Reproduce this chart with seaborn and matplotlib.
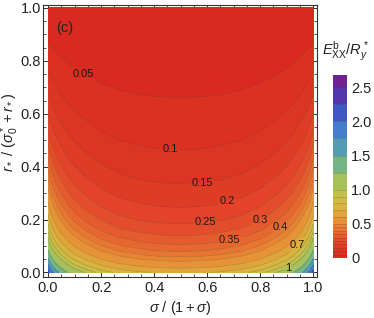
import matplotlib
matplotlib.use("Agg")
import matplotlib.pyplot as plt
import numpy as np
import seaborn as sns
from matplotlib.colors import LinearSegmentedColormap
from matplotlib.ticker import MultipleLocator

# E_xx^b / R_y^* read along the middle column sigma/(1+sigma) = 0.5
center_v = [0, 0.01, 0.02, 0.03, 0.045, 0.065, 0.085, 0.11, 0.14, 0.17, 0.21,
            0.25, 0.3, 0.36, 0.44, 0.52, 0.6, 0.68, 0.76, 0.84, 0.92, 1.0]
center_E = [0.680, 0.628, 0.583, 0.543, 0.491, 0.434, 0.388, 0.342, 0.298, 0.263, 0.226,
            0.197, 0.167, 0.138, 0.107, 0.083, 0.063, 0.046, 0.032, 0.020, 0.0092, 0.0]

# growth of the field towards the left / right edge (same on both sides)
edge_u = [0, 0.005, 0.01, 0.02, 0.035, 0.05, 0.075, 0.1, 0.14, 0.2, 0.27, 0.35, 0.42, 0.5]
edge_factor = [3.20, 2.98, 2.80, 2.55, 2.28, 2.08, 1.83, 1.65, 1.46, 1.26, 1.13, 1.05, 1.014, 1.0]

fill_levels = [0, 0.05, 0.1, 0.15, 0.2, 0.25, 0.3, 0.35, 0.4, 0.45, 0.5,
               0.6, 0.7, 0.8, 0.9, 1.0, 1.25, 1.5, 1.75, 2.0, 2.25, 2.5, 2.68]
label_levels = [0.05, 0.1, 0.15, 0.2, 0.25, 0.3, 0.35, 0.4, 0.7, 1.0]
other_levels = [0.45, 0.5, 0.6, 0.8, 0.9, 1.25, 1.5, 1.75, 2.0, 2.25, 2.5]
label_spots = [(0.136, 0.759), (0.46, 0.45), (0.585, 0.318), (0.681, 0.249), (0.597, 0.173),
               (0.804, 0.188), (0.688, 0.110), (0.885, 0.161), (0.949, 0.095), (0.904, 0.020)]

cbar_ticks = [0, 0.5, 1.0, 1.5, 2.0, 2.5]
cbar_labels = ["0", "0.5", "1.0", "1.5", "2.0", "2.5"]

# reversed "rainbow" (red at 0, purple at the top)
rainbow_pos = [0, 0.25, 0.5, 0.75, 1.0, 1.25, 1.5, 1.75, 2.0, 2.25, 2.5, 2.68]
rainbow_col = ["#d8261f", "#e3472a", "#ea8a35", "#dbb53f", "#bcc24e", "#8dbf6a",
               "#5daa9c", "#4b8fc8", "#3f6cd0", "#3f43b8", "#66259c", "#7a1c8a"]

sns.set_theme(style="ticks")
plt.rcParams["font.family"] = ["Liberation Sans", "DejaVu Sans"]
plt.rcParams["mathtext.fontset"] = "custom"
plt.rcParams["mathtext.rm"] = "Liberation Sans"
plt.rcParams["mathtext.it"] = "Liberation Sans:italic"
plt.rcParams["mathtext.bf"] = "Liberation Sans:bold"

cmap = LinearSegmentedColormap.from_list(
    "rainbow_r", [(p / rainbow_pos[-1], c) for p, c in zip(rainbow_pos, rainbow_col)])
norm = plt.Normalize(0, rainbow_pos[-1])

u = np.linspace(0, 1, 401)
v = np.linspace(0, 1, 401)
fac = np.interp(np.minimum(u, 1 - u), edge_u, edge_factor)
prof = np.interp(v, center_v, center_E)
Z = prof[:, None] * fac[None, :]

fig = plt.figure(figsize=(3.74, 3.18), dpi=100)
ax = fig.add_axes([0.115, 0.129, 0.733, 0.855])

line_kw = dict(colors="#333333", linewidths=0.4, alpha=0.32)
cf = ax.contourf(u, v, Z, levels=fill_levels, cmap=cmap, norm=norm)
cs_other = ax.contour(u, v, Z, levels=other_levels, **line_kw)
cs_lab = ax.contour(u, v, Z, levels=label_levels, **line_kw)
labels = ax.clabel(cs_lab, fmt=lambda x: f"{x:g}", fontsize=8, colors="#1a1a1a",
                   inline=True, inline_spacing=2, manual=label_spots)
for t in labels:
    t.set_rotation(0)
    t.set_alpha(1)

ax.set_xlim(-0.019, 1.015)
ax.set_ylim(-0.017, 1.011)
ax.xaxis.set_major_locator(MultipleLocator(0.2))
ax.yaxis.set_major_locator(MultipleLocator(0.2))
ax.xaxis.set_minor_locator(MultipleLocator(0.05))
ax.yaxis.set_minor_locator(MultipleLocator(0.05))
ax.xaxis.set_major_formatter(lambda x, p: f"{x:.1f}")
ax.yaxis.set_major_formatter(lambda x, p: f"{x:.1f}")
ax.tick_params(which="both", direction="in", top=True, right=True, colors="#333333",
               labelcolor="#222222", labelsize=10.5)
ax.tick_params(which="major", length=4, width=0.7)
ax.tick_params(which="minor", length=2.2, width=0.6)
ax.tick_params(axis="x", pad=3)
ax.tick_params(axis="y", pad=1.5)
for s in ax.spines.values():
    s.set_linewidth(0.8)
    s.set_color("#333333")

ax.set_xlabel(r"$\sigma\ /\ (1 + \sigma)$", fontsize=10.5, color="#222222")
ax.xaxis.set_label_coords(0.5, -0.08)
ax.set_ylabel(r"$r_*\ /\ (\sigma_0^* + r_*)$", fontsize=10.5, color="#222222")
ax.yaxis.set_label_coords(-0.08, 0.533)
ax.text(0.08, 0.915, "(c)", transform=ax.transAxes, fontsize=10.5, color="#222222",
        ha="center", va="center")

cax = fig.add_axes([0.890, 0.1887, 0.0374, 0.5755])
cb = fig.colorbar(cf, cax=cax, spacing="proportional")
cb.add_lines(cs_other)
cb.add_lines(cs_lab, erase=False)
cb.outline.set_visible(False)
cb.set_ticks(cbar_ticks)
cb.set_ticklabels(cbar_labels)
cax.tick_params(length=0, labelsize=10.5, labelcolor="#222222", pad=3)
fig.text(0.925, 1 - 51 / 318, r"$E_{\mathrm{XX}}^{\mathrm{b}}/R_y^*$", fontsize=10.5,
         color="#222222", ha="center", va="center")

fig.savefig("out.png", dpi=100)
